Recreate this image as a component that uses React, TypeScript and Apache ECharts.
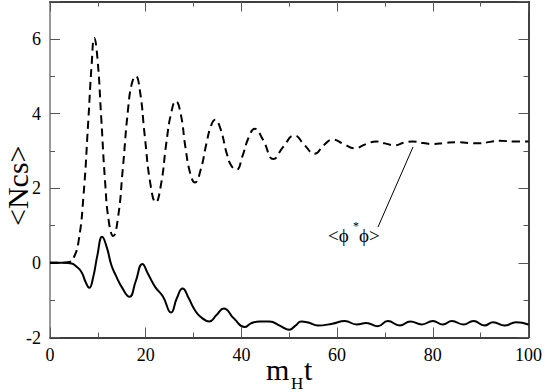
import React, { useEffect, useRef } from "react";
import * as echarts from "echarts";

// <phi* phi> (dashed) : [m_H t, <Ncs>]
const phiTimes = [0, 2, 4, 5, 6, 7, 8, 8.7, 9.25, 9.9, 10.7, 11.5, 12.3, 13.2, 14.2, 15.2, 16.3, 17.1, 17.9, 18.8, 19.8, 21, 22.1, 23.2, 24.3, 25.3, 26.3, 27.3, 28.3, 29.3, 30.3, 31.5, 32.7, 33.6, 34.5, 35.6, 37, 38, 39, 40.2, 41.5, 42.8, 44.5, 46.7, 48.7, 51.1, 53.2, 55.3, 57.2, 59.1, 61.4, 63.7, 66, 68.2, 70, 72, 74, 75.8, 78, 80, 82.5, 84.9, 87.5, 89.8, 92, 94, 97, 100];
const phiValues = [0, 0, 0.02, 0.15, 0.6, 1.8, 3.8, 5.3, 6.02, 5.5, 3.9, 2.2, 1.1, 0.72, 1.2, 2.5, 4.1, 4.8, 5.0, 4.6, 3.4, 2.1, 1.62, 2.1, 3.2, 4.0, 4.33, 4.0, 3.1, 2.4, 2.15, 2.5, 3.2, 3.65, 3.83, 3.6, 2.9, 2.58, 2.5, 2.85, 3.35, 3.59, 3.3, 2.78, 3.1, 3.41, 3.15, 2.92, 3.15, 3.3, 3.18, 3.07, 3.18, 3.25, 3.2, 3.15, 3.22, 3.25, 3.21, 3.18, 3.21, 3.23, 3.21, 3.2, 3.24, 3.27, 3.25, 3.25];

// <Ncs> (solid)
const ncsTimes = [0, 3, 4.5, 5.5, 6.6, 7.4, 8.2, 9, 9.9, 10.9, 11.9, 12.8, 13.8, 15, 16.6, 17.9, 19.3, 20.5, 22, 23.6, 25.3, 26.5, 27.7, 29, 30.2, 31.5, 33.3, 34.8, 36.3, 38.5, 40.7, 42, 43.8, 45.9, 48, 50, 51.3, 52.5, 54, 56, 59, 61.6, 64.1, 66.1, 68.5, 70.6, 73.1, 75.3, 77.7, 80, 82.1, 84, 86.4, 88.5, 90.8, 92.6, 95, 97.4, 100];
const ncsValues = [0, 0, -0.02, -0.1, -0.25, -0.5, -0.67, -0.4, 0.2, 0.7, 0.4, -0.05, -0.35, -0.65, -0.91, -0.5, -0.03, -0.3, -0.65, -0.9, -1.33, -0.95, -0.69, -0.95, -1.25, -1.45, -1.57, -1.4, -1.22, -1.5, -1.72, -1.62, -1.57, -1.57, -1.68, -1.79, -1.68, -1.57, -1.6, -1.68, -1.63, -1.56, -1.65, -1.61, -1.7, -1.56, -1.68, -1.57, -1.65, -1.56, -1.65, -1.56, -1.65, -1.56, -1.68, -1.59, -1.68, -1.59, -1.65];

const xTicks = [0, 20, 40, 60, 80, 100];
const yTicks = [-2, 0, 2, 4, 6];

const FONT = "'Liberation Serif', 'Times New Roman', 'DejaVu Serif', serif";

export default function App() {
  const ref = useRef<HTMLDivElement>(null);
  useEffect(() => {
    if (!ref.current) return;
    const chart = echarts.init(ref.current, undefined, { renderer: "svg" });
    const phiData = phiTimes.map((t, i) => [t, phiValues[i]]);
    const ncsData = ncsTimes.map((t, i) => [t, ncsValues[i]]);
    const tickCommon = {
      axisTick: { show: true, inside: true, length: 10, lineStyle: { color: "#555", width: 1 } },
      minorTick: { show: true, splitNumber: 2, length: 5, lineStyle: { color: "#555", width: 1 } },
      splitLine: { show: false },
      minorSplitLine: { show: false },
    };
    chart.setOption({
      animation: false,
      backgroundColor: "#fff",
      textStyle: { fontFamily: FONT },
      grid: { left: 50, right: 16, top: 1.5, bottom: 54.5, containLabel: false },
      xAxis: [
        {
          type: "value", min: 0, max: 100, interval: 20, position: "bottom",
          axisLine: { show: true, onZero: false, lineStyle: { color: "#000", width: 1.5 } },
          axisLabel: {
            show: true, margin: 8, color: "#000", fontFamily: FONT, fontSize: 18,
            formatter: (v: number) => (xTicks.includes(v) ? String(v) : ""),
          },
          ...tickCommon,
        },
        {
          type: "value", min: 0, max: 100, interval: 20, position: "top",
          axisLine: { show: true, onZero: false, lineStyle: { color: "#000", width: 1.5 } },
          axisLabel: { show: false },
          ...tickCommon,
        },
      ],
      yAxis: [
        {
          type: "value", min: -2, max: 7, interval: 2, position: "left",
          axisLine: { show: true, onZero: false, lineStyle: { color: "#777", width: 1.5 } },
          axisLabel: {
            show: true, margin: 9, color: "#000", fontFamily: FONT, fontSize: 18,
            formatter: (v: number) => (yTicks.includes(v) ? String(v) : ""),
          },
          ...tickCommon,
        },
        {
          type: "value", min: -2, max: 7, interval: 2, position: "right",
          axisLine: { show: true, onZero: false, lineStyle: { color: "#000", width: 1.5 } },
          axisLabel: { show: false },
          ...tickCommon,
        },
      ],
      series: [
        {
          type: "line", data: phiData, smooth: 0.5, symbol: "none",
          lineStyle: { color: "#000", width: 2, type: [8, 5] },
        },
        {
          type: "line", data: ncsData, smooth: 0.5, symbol: "none",
          lineStyle: { color: "#000", width: 2 },
        },
      ],
      graphic: [
        {
          type: "text", rotation: Math.PI / 2,
          style: { text: "<Ncs>", fontFamily: FONT, fontSize: 30, fill: "#000" },
          x: 2, y: 226,
        },
        { type: "text", x: 266, y: 354, style: { text: "m", fontFamily: FONT, fontSize: 30, fill: "#000" } },
        { type: "text", x: 291, y: 375, style: { text: "H", fontFamily: FONT, fontSize: 17, fill: "#000" } },
        { type: "text", x: 304, y: 354, style: { text: "t", fontFamily: FONT, fontSize: 30, fill: "#000" } },
        { type: "text", x: 328, y: 226, style: { text: "<ϕ", fontFamily: FONT, fontSize: 19, fill: "#000" } },
        { type: "text", x: 353, y: 220, style: { text: "*", fontFamily: FONT, fontSize: 12, fill: "#000" } },
        { type: "text", x: 359, y: 226, style: { text: "ϕ>", fontFamily: FONT, fontSize: 19, fill: "#000" } },
        {
          type: "line", shape: { x1: 378, y1: 227, x2: 413, y2: 147 },
          style: { stroke: "#000", lineWidth: 1 },
        },
      ],
    });
    return () => chart.dispose();
  }, []);
  return (
    <div
      ref={ref}
      style={{ position: "fixed", left: 0, top: 0, width: 545, height: 392, background: "#fff" }}
    />
  );
}
